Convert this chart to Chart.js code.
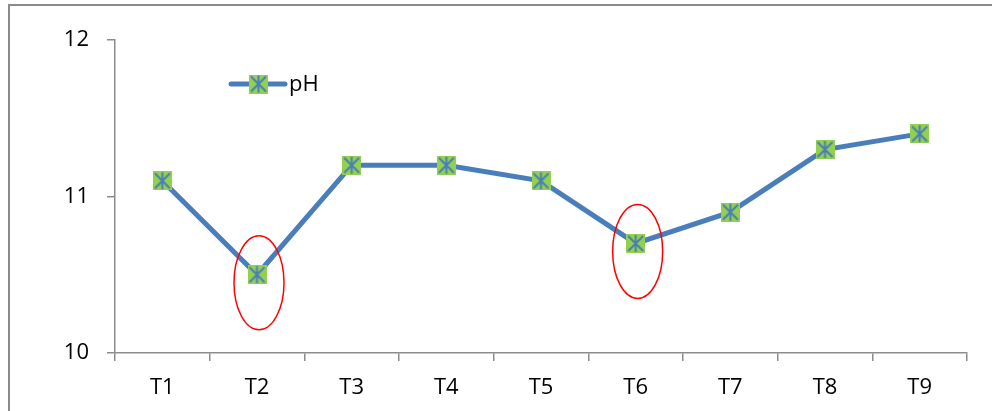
<!DOCTYPE html>
<html>
<head>
<meta charset="utf-8">
<script src="https://cdn.jsdelivr.net/npm/chart.js@4"></script>
<style>
  html, body { margin: 0; padding: 0; background: #ffffff; }
  #wrap { width: 992px; height: 411px; position: relative; }
</style>
</head>
<body>
<div id="wrap"><canvas id="chart" width="992" height="411"></canvas></div>
<script>
// Sample points and their pH readings
const categories = ['T1', 'T2', 'T3', 'T4', 'T5', 'T6', 'T7', 'T8', 'T9'];
const phValues = [11.1, 10.5, 11.2, 11.2, 11.1, 10.7, 10.9, 11.3, 11.4];
const yTicks = [10, 11, 12];
const seriesLabel = 'pH';
// Points circled in red
const circled = ['T2', 'T6'];

const LINE_BLUE = '#4A7EBB';
const MARK_GREEN = '#92D050';
const AXIS_GREY = '#8C8C8C';
const FONT = '"Open Sans", "Liberation Sans", sans-serif';

// Green square marker with a blue asterisk
function makeMarker(size) {
  const c = document.createElement('canvas');
  c.width = size; c.height = size;
  const g = c.getContext('2d');
  g.fillStyle = MARK_GREEN;
  g.fillRect(0, 0, size, size);
  g.strokeStyle = LINE_BLUE;
  g.lineWidth = 2;
  const m = size / 2;
  g.beginPath();
  g.moveTo(m, 1); g.lineTo(m, size - 1);
  g.moveTo(2, 2); g.lineTo(size - 2, size - 2);
  g.moveTo(size - 2, 2); g.lineTo(2, size - 2);
  g.stroke();
  return c;
}
const marker = makeMarker(19);

// Outer frame of the chart
const framePlugin = {
  id: 'frame',
  beforeDraw(chart) {
    const ctx = chart.ctx;
    ctx.save();
    ctx.strokeStyle = '#8A8A8A';
    ctx.lineWidth = 2;
    ctx.strokeRect(9, 5, 1200, 800);
    ctx.restore();
  }
};

// Red ellipses around selected points
const ellipsePlugin = {
  id: 'ellipses',
  afterDatasetsDraw(chart) {
    const ctx = chart.ctx;
    const meta = chart.getDatasetMeta(0);
    ctx.save();
    ctx.strokeStyle = '#FF0000';
    ctx.lineWidth = 1.5;
    circled.forEach(cat => {
      const i = categories.indexOf(cat);
      const pt = meta.data[i];
      ctx.beginPath();
      ctx.ellipse(pt.x + 2, pt.y + 8, 25, 47, 0, 0, Math.PI * 2);
      ctx.stroke();
    });
    ctx.restore();
  }
};

// Legend sitting inside the plot area
const legendPlugin = {
  id: 'innerLegend',
  afterDraw(chart) {
    const ctx = chart.ctx;
    const x0 = 231, x1 = 285, y = 84;
    ctx.save();
    ctx.strokeStyle = LINE_BLUE;
    ctx.lineWidth = 5;
    ctx.lineCap = 'round';
    ctx.beginPath();
    ctx.moveTo(x0, y); ctx.lineTo(x1, y);
    ctx.stroke();
    ctx.drawImage(marker, (x0 + x1) / 2 - marker.width / 2 + 0.5, y - marker.height / 2);
    ctx.fillStyle = '#000000';
    ctx.font = '22px ' + FONT;
    ctx.textBaseline = 'middle';
    ctx.textAlign = 'left';
    ctx.fillText(seriesLabel, 289, y + 1);
    ctx.restore();
  }
};

new Chart(document.getElementById('chart'), {
  type: 'line',
  data: {
    labels: categories,
    datasets: [{
      label: seriesLabel,
      data: phValues,
      borderColor: LINE_BLUE,
      borderWidth: 5,
      tension: 0,
      pointStyle: marker,
      pointRadius: 10,
      pointHoverRadius: 10
    }]
  },
  options: {
    responsive: false,
    animation: false,
    events: [],
    layout: { padding: { left: 8, top: 40, right: 25, bottom: 0 } },
    plugins: { legend: { display: false }, tooltip: { enabled: false } },
    scales: {
      x: {
        offset: true,
        grid: {
          offset: true,
          drawOnChartArea: false,
          drawTicks: true,
          tickLength: 8,
          color: AXIS_GREY,
          lineWidth: 1.5
        },
        border: { color: AXIS_GREY, width: 1.5 },
        ticks: { color: '#000000', font: { size: 22, family: FONT }, padding: 14, maxRotation: 0 },
        afterFit(scale) { scale.height = 411 - 353; }
      },
      y: {
        min: yTicks[0],
        max: yTicks[yTicks.length - 1],
        afterBuildTicks(scale) { scale.ticks = yTicks.map(v => ({ value: v })); },
        grid: {
          drawOnChartArea: false,
          drawTicks: true,
          tickLength: 8,
          color: AXIS_GREY,
          lineWidth: 1.5
        },
        border: { color: AXIS_GREY, width: 1.5 },
        ticks: { color: '#000000', font: { size: 22, family: FONT }, padding: 18 },
        afterFit(scale) { scale.width = 115 - 8; }
      }
    }
  },
  plugins: [framePlugin, ellipsePlugin, legendPlugin]
});
</script>
</body>
</html>
